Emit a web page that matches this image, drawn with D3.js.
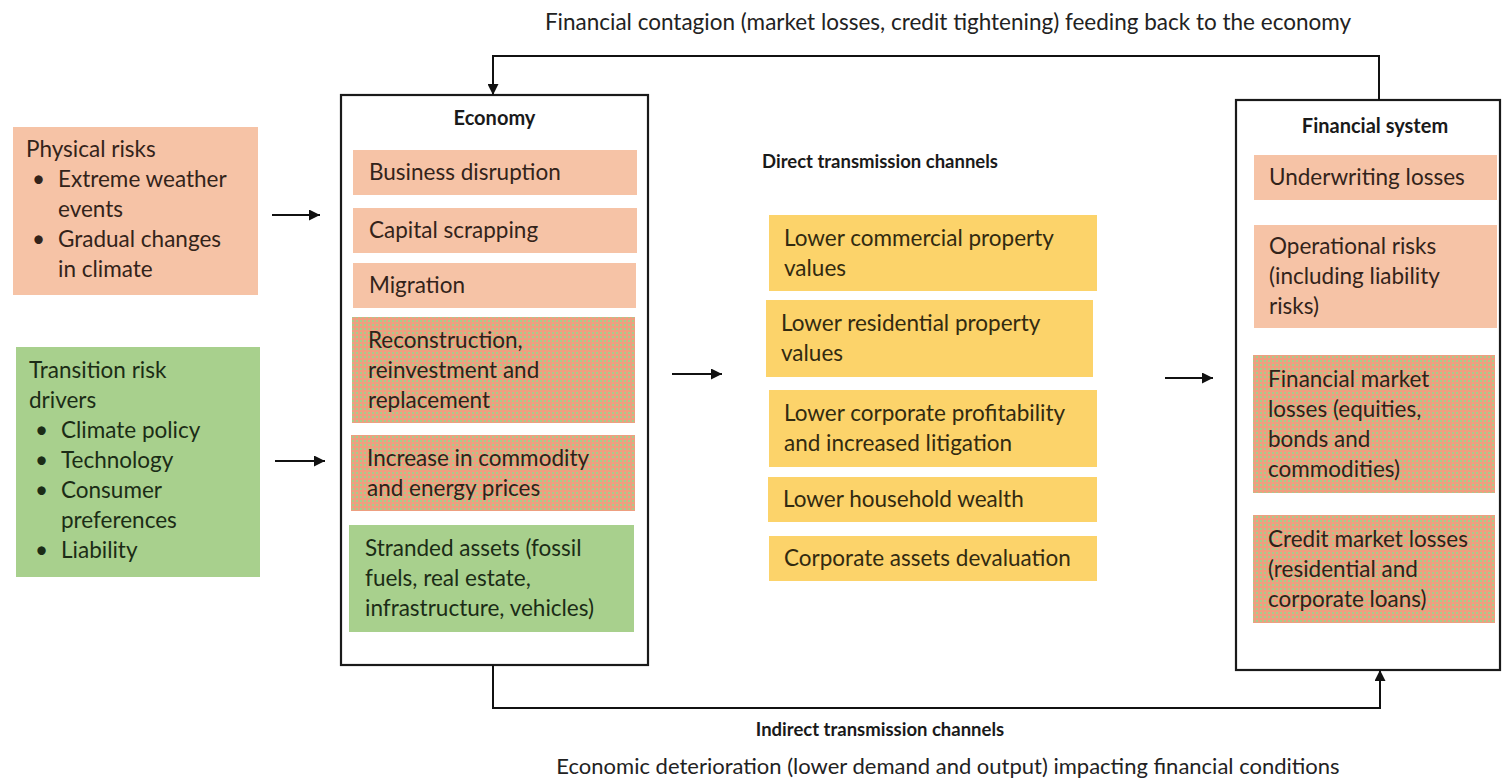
<!DOCTYPE html>
<html>
<head>
<meta charset="utf-8">
<script src="https://cdn.jsdelivr.net/npm/d3@7"></script>
<style>
  body { margin: 0; background: #fff; }
  svg text { font-family: Lato, "Open Sans", sans-serif; }
</style>
</head>
<body>
<div id="app"></div>
<script>
const width = 1502,
    height = 781;

// texts
const topCaption = "Financial contagion (market losses, credit tightening) feeding back to the economy";
const bottomTitle = "Indirect transmission channels";
const bottomCaption = "Economic deterioration (lower demand and output) impacting financial conditions";

const drivers = [
    {title: ["Physical risks"], bullets: [["Extreme weather", "events"], ["Gradual changes", "in climate"]], kind: "physical"},
    {title: ["Transition risk", "drivers"], bullets: [["Climate policy"], ["Technology"], ["Consumer", "preferences"], ["Liability"]], kind: "transition"}
];

const economyItems = [
    {lines: ["Business disruption"], kind: "physical"},
    {lines: ["Capital scrapping"], kind: "physical"},
    {lines: ["Migration"], kind: "physical"},
    {lines: ["Reconstruction,", "reinvestment and", "replacement"], kind: "mixed"},
    {lines: ["Increase in commodity", "and energy prices"], kind: "mixed"},
    {lines: ["Stranded assets (fossil", "fuels, real estate,", "infrastructure, vehicles)"], kind: "transition"}
];

const directItems = [
    ["Lower commercial property", "values"],
    ["Lower residential property", "values"],
    ["Lower corporate profitability", "and increased litigation"],
    ["Lower household wealth"],
    ["Corporate assets devaluation"]
];

const financialItems = [
    {lines: ["Underwriting losses"], kind: "physical"},
    {lines: ["Operational risks", "(including liability", "risks)"], kind: "physical"},
    {lines: ["Financial market", "losses (equities,", "bonds and", "commodities)"], kind: "mixed"},
    {lines: ["Credit market losses", "(residential and", "corporate loans)"], kind: "mixed"}
];

// layout (pixel extents of each column's boxes)
const driverBoxes = [[13, 127, 258, 295], [16, 347, 260, 577]];
const economyFrame = [341, 95, 648, 665];
const economyBoxes = [[353, 150, 637, 195], [353, 208, 637, 253], [353, 263, 636, 308],
                      [352, 317, 635, 423], [351, 435, 635, 511], [349, 525, 634, 632]];
const directBoxes = [[769, 215, 1097, 291], [766, 300, 1093, 377], [769, 390, 1097, 467],
                     [768, 477, 1097, 522], [769, 536, 1097, 581]];
const financialFrame = [1236, 100, 1500, 670];
const financialBoxes = [[1254, 155, 1497, 200], [1254, 225, 1497, 328], [1253, 355, 1495, 493], [1253, 515, 1495, 623]];

const lineH = 30;
const fontSize = 22.5;

const fills = {physical: "#f6c3a6", transition: "#a8d08d", mixed: "url(#mix)", direct: "#fcd36a"};
const inks = {physical: "#33231a", transition: "#1b2c16", mixed: "#2e2218", direct: "#322a10"};

const svg = d3.select("#app").append("svg")
    .attr("width", width)
    .attr("height", height);

const defs = svg.append("defs");
const pat = defs.append("pattern")
    .attr("id", "mix")
    .attr("width", 4).attr("height", 4)
    .attr("patternUnits", "userSpaceOnUse");
pat.append("rect").attr("width", 4).attr("height", 4).attr("fill", "#ee9f80");
pat.append("rect").attr("x", 0).attr("y", 0).attr("width", 2).attr("height", 2).attr("fill", "#a8cc8a");

defs.append("marker")
    .attr("id", "arrow")
    .attr("viewBox", "0 0 10 10")
    .attr("refX", 10).attr("refY", 5)
    .attr("markerWidth", 5.5).attr("markerHeight", 5.5)
    .attr("markerUnits", "strokeWidth")
    .attr("orient", "auto")
    .append("path")
    .attr("d", "M0,0L10,5L0,10Z")
    .attr("fill", "#111");

function box(b, fill) {
    svg.append("rect")
        .attr("x", b[0]).attr("y", b[1])
        .attr("width", b[2] - b[0]).attr("height", b[3] - b[1])
        .attr("fill", fill);
}

function lines(arr, x, yTop, ink) {
    svg.append("g").selectAll("text")
        .data(arr).enter()
        .append("text")
        .attr("x", x)
        .attr("y", (d, i) => yTop + i * lineH)
        .attr("dy", "0.35em")
        .attr("font-size", fontSize)
        .attr("fill", ink)
        .text(d => d);
}

function centeredLines(arr, b, ink, padX) {
    const cy = (b[1] + b[3]) / 2;
    const y0 = cy - (arr.length - 1) * lineH / 2;
    lines(arr, b[0] + padX, y0, ink);
}

function title(txt, x, y, size) {
    svg.append("text").attr("x", x).attr("y", y)
        .attr("dy", "0.35em").attr("text-anchor", "middle")
        .attr("font-size", size).attr("font-weight", "bold").attr("fill", "#1a1a1a").text(txt);
}

// drivers
drivers.forEach((d, i) => {
    const b = driverBoxes[i];
    box(b, fills[d.kind]);
    const rows = [];
    d.title.forEach(t => rows.push({t, bullet: false, first: false}));
    d.bullets.forEach(bl => bl.forEach((t, j) => rows.push({t, bullet: true, first: j === 0})));
    const cy = (b[1] + b[3]) / 2;
    const y0 = cy - (rows.length - 1) * lineH / 2 - 2;
    const g = svg.append("g");
    rows.forEach((r, k) => {
        const y = y0 + k * lineH;
        if (r.bullet && r.first) {
            g.append("text").attr("x", b[0] + 19).attr("y", y).attr("dy", "0.35em")
                .attr("font-size", fontSize).attr("fill", inks[d.kind]).text("•");
        }
        g.append("text")
            .attr("x", b[0] + (r.bullet ? 45 : 13))
            .attr("y", y).attr("dy", "0.35em")
            .attr("font-size", fontSize)
            .attr("fill", inks[d.kind])
            .text(r.t);
    });
});

// frames
[economyFrame, financialFrame].forEach(f => {
    svg.append("rect")
        .attr("x", f[0]).attr("y", f[1])
        .attr("width", f[2] - f[0]).attr("height", f[3] - f[1])
        .attr("fill", "#fff")
        .attr("stroke", "#1a1a1a")
        .attr("stroke-width", 2.2);
});

title("Economy", (economyFrame[0] + economyFrame[2]) / 2, 118, 20);
title("Financial system", 1375, 126, 20);
title("Direct transmission channels", 880, 162, 18.5);

economyItems.forEach((d, i) => {
    box(economyBoxes[i], fills[d.kind]);
    centeredLines(d.lines, economyBoxes[i], inks[d.kind], 16);
});

directItems.forEach((d, i) => {
    box(directBoxes[i], fills.direct);
    centeredLines(d, directBoxes[i], inks.direct, 15);
});

financialItems.forEach((d, i) => {
    box(financialBoxes[i], fills[d.kind]);
    centeredLines(d.lines, financialBoxes[i], inks[d.kind], 15);
});

// arrows
const arrows = [[272, 215, 320, 215], [275, 461, 325, 461], [672, 374, 722, 374], [1165, 378, 1213, 378]];
svg.append("g").selectAll("line")
    .data(arrows).enter()
    .append("line")
    .attr("x1", d => d[0]).attr("y1", d => d[1])
    .attr("x2", d => d[2]).attr("y2", d => d[3])
    .attr("stroke", "#111").attr("stroke-width", 2)
    .attr("marker-end", "url(#arrow)");

// feedback loops
const loopTop = [[1379, 100], [1379, 56], [493, 56], [493, 95]];
const loopBottom = [[493, 665], [493, 708], [1380, 708], [1380, 670]];
[loopTop, loopBottom].forEach(p => {
    svg.append("path")
        .attr("d", d3.line()(p))
        .attr("fill", "none")
        .attr("stroke", "#111")
        .attr("stroke-width", 2)
        .attr("marker-end", "url(#arrow)");
});

svg.append("text").attr("x", 948).attr("y", 22).attr("dy", "0.35em")
    .attr("text-anchor", "middle").attr("font-size", 22.5).attr("fill", "#222").text(topCaption);
title(bottomTitle, 880, 730, 18.5);
svg.append("text").attr("x", 948).attr("y", 766).attr("dy", "0.35em")
    .attr("text-anchor", "middle").attr("font-size", 22).attr("fill", "#222").text(bottomCaption);
</script>
</body>
</html>
